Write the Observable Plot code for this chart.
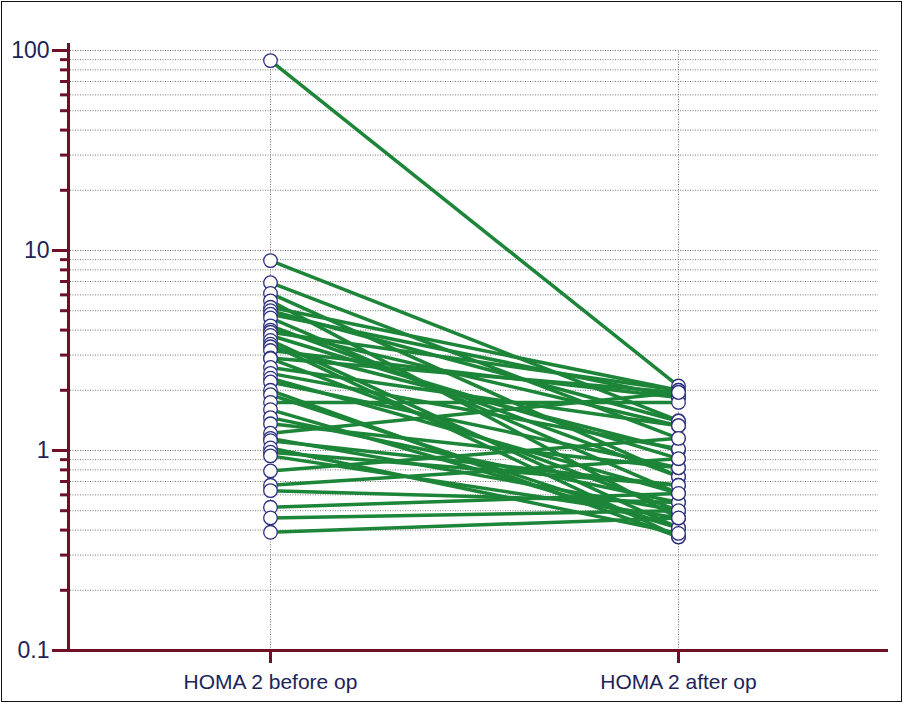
<!DOCTYPE html>
<html>
<head>
<meta charset="utf-8">
<script src="https://cdn.jsdelivr.net/npm/d3@7"></script>
<script src="https://cdn.jsdelivr.net/npm/@observablehq/plot@0.6"></script>
<style>
  body { margin: 0; background: #fff; }
  #wrap { position: relative; width: 904px; height: 704px; }
  #border { position: absolute; left: 1px; top: 1px; width: 899px; height: 699px; border: 1.5px solid #111; pointer-events: none; }
</style>
</head>
<body>
<div id="wrap"><div id="chart"></div><div id="border"></div></div>
<script>
const categories = ["HOMA 2 before op", "HOMA 2 after op"];
const beforeValues = [89, 8.9, 6.9, 6.1, 5.6, 5.2, 5.0, 4.8, 4.6, 4.2, 4.0, 3.9, 3.76, 3.55, 3.4, 3.3, 3.16, 2.9, 2.88, 2.6, 2.43, 2.3, 2.2, 2.0, 1.9, 1.74, 1.6, 1.46, 1.36, 1.22, 1.15, 1.12, 1.03, 0.98, 0.94, 0.79, 0.67, 0.63, 0.52, 0.46, 0.39];
const afterValues  = [2.1, 1.41, 1.15, 0.74, 0.46, 2.0, 1.4, 1.84, 0.61, 0.74, 1.33, 2.0, 0.91, 0.41, 0.37, 1.0, 1.84, 1.95, 0.50, 1.33, 1.02, 0.61, 0.82, 0.37, 0.41, 1.74, 0.41, 0.55, 0.82, 1.95, 0.5, 0.67, 0.385, 0.67, 0.46, 1.15, 0.91, 0.55, 0.61, 0.50, 0.46];
const majorTicks = [0.1, 1, 10, 100];
const minorTicks = [0.2, 0.3, 0.4, 0.5, 0.6, 0.7, 0.8, 0.9, 2, 3, 4, 5, 6, 7, 8, 9, 20, 30, 40, 50, 60, 70, 80, 90];
const gridValues = [...minorTicks, 1, 10, 100];

const pairs = beforeValues.map((b, i) => ({before: b, after: afterValues[i]}));
const points = [
  ...pairs.map(p => ({cat: categories[0], v: p.before})),
  ...pairs.map(p => ({cat: categories[1], v: p.after}))
];

const axisColor = "#6e1026";
const textColor = "#1c2459";

const chart = Plot.plot({
  width: 904,
  height: 704,
  marginLeft: 68,
  marginRight: 16,
  marginTop: 44,
  marginBottom: 54,
  style: {fontFamily: "Liberation Sans, Arial, sans-serif", background: "transparent"},
  x: {type: "point", domain: categories, range: [270, 678], padding: 0},
  y: {type: "log", domain: [0.1, 100], range: [650, 50]},
  marks: [
    Plot.ruleY(gridValues, {stroke: "#777", strokeWidth: 1, strokeDasharray: "1,1.5", insetLeft: 2, insetRight: 10}),
    Plot.ruleX(categories, {y1: 0.1, y2: 100, stroke: "#777", strokeWidth: 1, strokeDasharray: "1,1.5"}),
    Plot.link(pairs, {
      x1: () => categories[0], x2: () => categories[1],
      y1: "before", y2: "after",
      stroke: "#1c8538", strokeWidth: 3.5
    }),
    Plot.dot(points, {x: "cat", y: "v", r: 6.8, fill: "white", stroke: "#2d3080", strokeWidth: 1.3}),
    Plot.axisY(minorTicks, {tickSize: 8, stroke: axisColor, strokeWidth: 3, text: null, label: null}),
    Plot.axisY(majorTicks, {tickSize: 16, tickPadding: 3, stroke: axisColor, strokeWidth: 3,
      fill: textColor, fontSize: 23, tickFormat: d => String(d), label: null}),
    Plot.axisX(categories, {tickSize: 13, tickPadding: 11, stroke: axisColor, strokeWidth: 3,
      fill: textColor, fontSize: 21, label: null}),
    Plot.frame({anchor: "left", stroke: axisColor, strokeWidth: 3}),
    Plot.ruleY([0.1], {stroke: axisColor, strokeWidth: 3})
  ]
});
document.getElementById("chart").appendChild(chart);
</script>
</body>
</html>
